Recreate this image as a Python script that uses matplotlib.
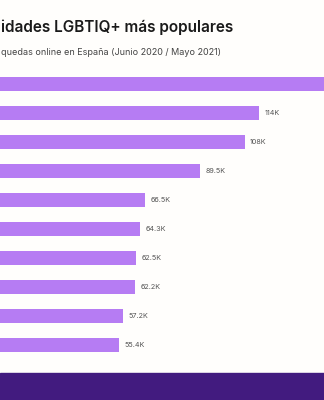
import matplotlib.pyplot as plt
from matplotlib.patches import Rectangle

# ranks of the ten identities (their names are cut off in the source image)
ranks = [1, 2, 3, 4, 5, 6, 7, 8, 9, 10]
searches_k = [152, 114, 108, 89.5, 66.5, 64.3, 62.5, 62.2, 57.2, 55.4]
# the first label is outside the cropped picture
value_labels = ["", "114K", "108K", "89.5K", "66.5K", "64.3K", "62.5K", "62.2K", "57.2K", "55.4K"]

W, H = 324, 400
fig = plt.figure(figsize=(W / 100, H / 100), dpi=100)
fig.patch.set_facecolor("#fffefc")

# axes starts a bit left of the picture (the original is cropped)
x0 = -13.4
top, bottom = 69.5, 359.5
ax = fig.add_axes([x0 / W, 1 - bottom / H, (W - x0) / W, (bottom - top) / H])
ax.set_facecolor("none")

ypos = list(range(len(ranks)))
ax.barh(ypos, searches_k, height=0.5, color="#b67cf3")
ax.set_xlim(0, (W - x0) / 2.389)
ax.set_ylim(len(ranks) - 0.5, -0.5)

for y, v, lab in zip(ypos, searches_k, value_labels):
    if lab:
        ax.text(v + 2.2, y, lab, va="center", ha="left", fontsize=5.2,
                color="#555555", family="Inter")

ax.axis("off")

# title and subtitle (cut on the left in the source)
fig.text(1 / W, 1 - 32 / H, "idades LGBTIQ+ más populares", fontsize=11,
         fontweight="semibold", family="Inter", color="#1a1a1a", va="baseline")
fig.text(1 / W, 1 - 55 / H, "quedas online en España (Junio 2020 / Mayo 2021)",
         fontsize=6.5, family="Inter", color="#444444", va="baseline")

# dark footer band
fig.patches.append(Rectangle((0, 0), 1, 27 / H, transform=fig.transFigure,
                             color="#421b7f", zorder=0))

fig.savefig("out.png", dpi=100)
